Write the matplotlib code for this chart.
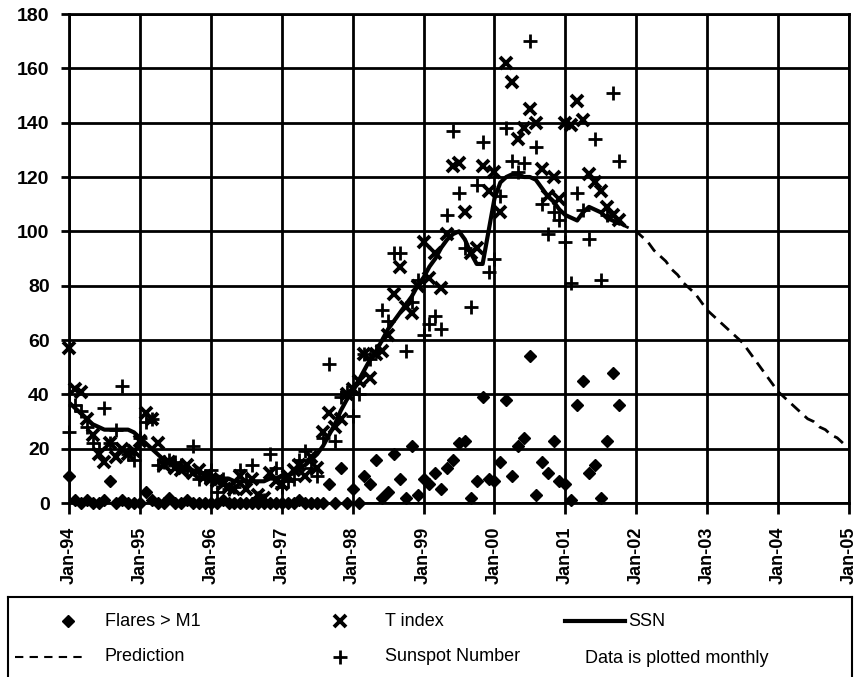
import numpy as np
import matplotlib
matplotlib.use("Agg")
import matplotlib.pyplot as plt

plt.rcParams['font.family'] = ['Liberation Sans', 'DejaVu Sans']

# monthly values, Jan-94 .. Oct-01
flares = [10, 1, 0, 1, 0, 0, 1, 8, 0, 1, 0, 0,
          0, 4, 1, 0, 0, 2, 0, 0, 1, 0, 0, 0,
          0, 0, 1, 0, 0, 0, 0, 0, 0, 0, 0, 0,
          0, 0, 0, 1, 0, 0, 0, 0, 7, 0, 13, 0,
          5, 0, 10, 7, 16, 2, 4, 18, 9, 2, 21, 3,
          9, 7, 11, 5, 13, 16, 22, 23, 2, 8, 39, 9,
          8, 15, 38, 10, 21, 24, 54, 3, 15, 11, 23, 8,
          7, 1, 36, 45, 11, 14, 2, 23, 48, 36]

t_index = [57, 42, 41, 31, 25, 18, 15, 22, 17, 20, 18, 19,
           23, 33, 31, 22, 14, 15, 13, 12, 14, 11, 12, 10,
           9, 8, 7, 6, 5, 10, 5, 9, 3, 2, 11, 8,
           7, 10, 12, 14, 10, 17, 13, 26, 33, 28, 31, 40,
           42, 45, 55, 46, 55, 56, 62, 77, 87, 72, 70, 80,
           96, 83, 92, 79, 99, 124, 125, 107, 92, 94, 124, 115,
           122, 107, 162, 155, 134, 138, 145, 140, 123, 113, 120, 112,
           140, 139, 148, 141, 121, 118, 115, 109, 106, 104]

sunspot = [26, 36, 34, 28, 22, 20, 35, 22, 27, 43, 18, 16,
           24, 30, 31, 14, 15, 16, 15, 14, 12, 21, 9, 10,
           12, 4, 9, 5, 6, 12, 8, 14, 2, 1, 18, 13,
           6, 8, 9, 16, 19, 13, 10, 24, 51, 23, 39, 41,
           32, 40, 55, 53, 56, 71, 67, 92, 92, 56, 74, 82,
           62, 66, 69, 64, 106, 137, 114, 94, 72, 117, 133, 85,
           90, 113, 138, 126, 122, 125, 170, 131, 110, 99, 107, 104,
           96, 81, 114, 108, 97, 134, 82, 106, 151, 126]

ssn = [37, 35, 33, 31, 29, 28, 27, 27, 27, 27, 27, 26,
       24, 22, 20, 18, 16, 15, 14, 13, 12, 12, 11, 11,
       10, 10, 9, 9, 8, 8, 8, 8, 8, 8, 9, 9,
       10, 10, 11, 13, 14, 16, 18, 21, 25, 29, 34, 38,
       41, 45, 49, 53, 56, 60, 64, 67, 70, 73, 76, 80,
       83, 87, 90, 94, 97, 99, 100, 97, 92, 88, 88, 100,
       112, 118, 120, 121, 121, 120, 120, 119, 116, 113, 111, 108,
       106, 105, 104, 107, 109, 108, 107, 105, 104, 103]

# prediction, Oct-01 .. Jan-05
prediction = [103, 102, 101, 100, 98, 96, 93, 91, 89, 86, 84, 81,
              79, 77, 74, 71, 69, 67, 65, 63, 61, 59, 56, 53,
              50, 47, 44, 41, 39, 37, 35, 33, 31, 30, 28, 27,
              25, 24, 22, 21]
pred_start = 93

tick_labels = ['Jan-94', 'Jan-95', 'Jan-96', 'Jan-97', 'Jan-98', 'Jan-99',
               'Jan-00', 'Jan-01', 'Jan-02', 'Jan-03', 'Jan-04', 'Jan-05']

m = np.arange(len(t_index))
mp = np.arange(pred_start, pred_start + len(prediction))

fig = plt.figure(figsize=(8.6, 6.77), dpi=100)
ax = fig.add_axes([0.0802, 0.257, 0.907, 0.7223])

ax.plot(np.arange(len(flares)), flares, 'D', color='black', ms=6.5, clip_on=False, zorder=3)
ax.plot(m, t_index, 'x', color='black', ms=9, mew=2.8, clip_on=False, zorder=3)
ax.plot(np.arange(len(sunspot)), sunspot, '+', color='black', ms=10, mew=2, clip_on=False, zorder=3)
ax.plot(np.arange(len(ssn)), ssn, '-', color='black', lw=3, zorder=4)
ax.plot(mp, prediction, color='black', lw=2, dashes=(4, 2.5), zorder=4)

ax.set_xlim(0, 132)
ax.set_ylim(0, 180)
ax.set_xticks(np.arange(0, 133, 12))
ax.set_xticklabels(tick_labels, rotation=90, fontsize=13, fontweight='bold')
ax.set_yticks(np.arange(0, 181, 20))
ax.tick_params(axis='y', labelsize=14, width=2, length=6, pad=8)
ax.tick_params(axis='x', width=2, length=8, pad=9)
for lab in ax.get_yticklabels():
    lab.set_fontweight('bold')
ax.grid(True, color='black', lw=2)
ax.set_axisbelow(True)
for s in ax.spines.values():
    s.set_linewidth(2)

# legend box
lg = fig.add_axes([0.0093, -0.01, 0.9814, 0.128])
lg.set_xticks([])
lg.set_yticks([])
for s in lg.spines.values():
    s.set_linewidth(1.5)
lg.set_xlim(8, 852)
lg.set_ylim(684, 597)

fs = 13
lg.plot([68], [621], 'D', color='black', ms=6.5)
lg.text(105, 621, 'Flares > M1', fontsize=fs, va='center')
lg.plot([340], [621], 'x', color='black', ms=9, mew=2.8)
lg.text(385, 621, 'T index', fontsize=fs, va='center')
lg.plot([565, 625], [621, 621], '-', color='black', lw=3)
lg.text(628, 621, 'SSN', fontsize=fs, va='center')
lg.plot([15, 82], [657, 657], color='black', lw=1.5, dashes=(4, 3))
lg.text(105, 657, 'Prediction', fontsize=fs, va='center')
lg.plot([340], [657], '+', color='black', ms=10, mew=2)
lg.text(385, 657, 'Sunspot Number', fontsize=fs, va='center')
lg.text(585, 659, 'Data is plotted monthly', fontsize=fs, va='center')

fig.savefig('out.png', dpi=100)
